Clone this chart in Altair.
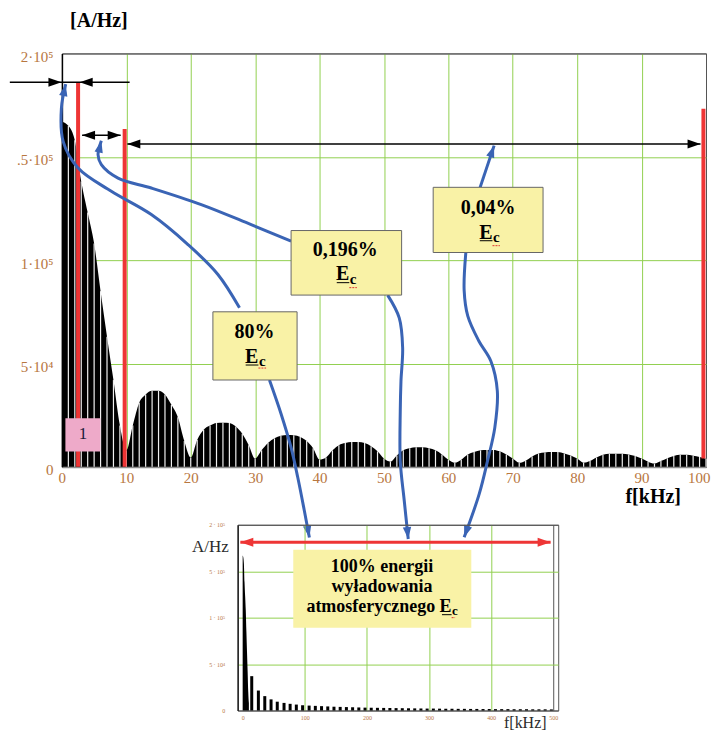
import altair as alt
import pandas as pd

# ---------------- data ----------------
freq_khz = list(range(0, 101))
amplitude = [167000, 165000, 158000, 138000, 123000, 108000, 85000, 63000, 42000, 20000,
             8000, 20000, 31000, 35000, 36800, 36800, 35000, 30000, 24000, 12500,
             4500, 13000, 18000, 20000, 21200, 21400, 21200, 19500, 16000, 10500,
             4000, 8000, 11500, 13800, 15000, 15400, 15300, 14500, 12500, 9000,
             3500, 4500, 8000, 10500, 11500, 12000, 12000, 11500, 10000, 7500,
             4000, 2500, 5500, 8000, 9000, 9500, 9500, 9000, 8000, 6000,
             3500, 2000, 3500, 6000, 7200, 8000, 8200, 8200, 7500, 6000,
             4000, 2000, 3000, 5000, 6500, 7000, 7200, 7200, 6500, 5500,
             4000, 2000, 2800, 4500, 5800, 6300, 6400, 6400, 6000, 5200,
             4000, 2500, 1600, 2800, 4200, 5300, 5800, 5800, 5400, 4800,
             3900]

main_x_ticks = [0, 10, 20, 30, 40, 50, 60, 70, 80, 90, 100]
main_y_ticks = [0, 50000, 100000, 150000, 200000]
main_y_labels = ["0", "5·10⁴", "1·10⁵", ".5·10⁵", "2·10⁵"]

inset_x_ticks = [0, 100, 200, 300, 400, 500]
inset_y_ticks = [0, 50000, 100000, 150000, 200000]
inset_y_labels = ["0", "5 · 10⁴", "1 · 10⁵", "5 · 10⁵", "2 · 10⁵"]

# inset: lobe peaks (0-500 kHz)
inset_lobe_khz = [14.6, 25.3, 35.6, 45.7, 55.7, 66.6, 76.4, 86.4, 96.5,
                  107, 117, 127, 137, 147, 157, 167, 177, 187, 197,
                  207, 217, 227, 237, 247, 257, 267, 277, 287, 297,
                  307, 317, 327, 337, 347, 357, 367, 377, 387, 397,
                  407, 417, 427, 437, 447, 457, 467, 477, 487, 497]
inset_lobe_amp = [37000, 21500, 15500, 12000, 9500, 8200, 7200, 6400, 5800,
                  5300, 5000, 4700, 4400, 4100, 3900, 3700, 3500, 3300, 3100,
                  3000, 2900, 2800, 2700, 2600, 2500, 2400, 2300, 2200, 2100,
                  2100, 2000, 1900, 1900, 1800, 1800, 1700, 1700, 1600, 1600,
                  1500, 1500, 1500, 1400, 1400, 1400, 1300, 1300, 1300, 1200]

# annotation geometry (data units: kHz, A/Hz)
red_f = [2.51, 9.74, 99.6]
red_v = [0, 0, 4000]
red_v2 = [186100, 163400, 173300]

black_f = [-8.09, 3.13, 10.16]
black_f2 = [10.51, 9.12, 99.15]
black_v = [186100, 160400, 156200]
black_head_f = [-0.08, 2.76, 3.13, 9.12, 10.16, 99.15]
black_head_v = [186100, 186100, 160400, 160400, 156200, 156200]
black_head_angle = [90, 270, 270, 90, 270, 90]

curves = {
    "A_up": ([27.57, 24.22, 19.57, 13.88, 7.67, 2.51, 0.19, -0.08, 0.59],
             [76940, 93080, 107560, 122050, 133310, 144560, 157460, 173540, 185130]),
    "A_dn": ([32.22, 34.03, 35.58, 36.62, 37.64, 38.42],
             [42020, 25600, 9320, -5170, -21250, -34150]),
    "B_up": ([35.58, 29.38, 21.63, 13.88, 8.71, 6.12, 5.61, 6.12],
             [109200, 117200, 126900, 134900, 139700, 146200, 151000, 157800]),
    "B_dn": ([50.57, 52.37, 52.9, 52.64, 52.53, 52.53, 53.15, 53.77],
             [83100, 72100, 57600, 41500, 27000, 2900, -16400, -34900]),
    "C_up": ([64.93, 67.10], [135200, 155400]),
    "C_dn": ([62.71, 62.45, 63.02, 64.73, 66.59, 67.60, 67.21, 66.08, 64.78, 62.45],
             [103700, 85400, 72900, 60900, 51200, 36700, 19000, 2900, -13200, -34100]),
}
blue_head_f = [0.59, 38.42, 6.12, 53.77, 67.10, 62.45]
blue_head_v = [185130, -34150, 157800, -34900, 155400, -34100]
blue_head_angle = [12, 169, 13, 174, 19, 199]

box_f = [23.44, 35.58, 57.64]
box_f2 = [36.51, 52.74, 74.70]
box_v = [42020, 83100, 103700]
box_v2 = [75010, 114330, 135240]

pink_f, pink_f2, pink_v, pink_v2 = [0.54], [5.97], [7400], [23500]

# underline under "E" and spell-check squiggle under "c"
ul_f = [28.53, 42.67, 64.88]
ul_f2 = [30.51, 44.62, 66.85]
ul_v = [49270, 89110, 109400]
sq_f = [30.51, 44.62, 66.85]
sq_f2 = [31.7, 45.8, 68.0]
sq_v = [47800, 86700, 107000]

# ---------------- styling ----------------
SERIF = "Liberation Serif"
BROWN = "#b8773f"
GREEN = "#92d050"
FRAME = "#555555"
YELLOW = "#f9f2a6"
BLUE = "#3a64b5"
RED = "#ee3535"
ARROW = "M0,0L0.7,2L-0.7,2Z"


def label_expr(values, labels):
    expr = "''"
    for v, l in reversed(list(zip(values, labels))):
        expr = f"datum.value === {v} ? '{l}' : {expr}"
    return expr


def grid_color(v0, vmax):
    return {"condition": [{"test": f"datum.value === {v0}", "value": "transparent"},
                          {"test": f"datum.value === {vmax}", "value": FRAME}],
            "value": GREEN}


# ---------------- main chart ----------------
x_axis_main = alt.Axis(values=main_x_ticks, title=None, ticks=False, labelFont=SERIF,
                       labelFontSize=15, labelColor=BROWN, labelPadding=4, labelFlush=True,
                       labelFlushOffset=4, labelOverlap=False, domainColor="#8c8c8c",
                       domainWidth=2, grid=True, gridColor=grid_color(0, 100), gridWidth=1)
y_axis_main = alt.Axis(values=main_y_ticks, title=None, ticks=False, labelFont=SERIF,
                       labelFontSize=15, labelColor=BROWN, labelPadding=9, labelOffset=3,
                       labelExpr=label_expr(main_y_ticks, main_y_labels),
                       domainColor="black", domainWidth=1.5,
                       grid=True, gridColor=grid_color(0, 200000), gridWidth=1)

xm = alt.X("f:Q", scale=alt.Scale(domain=[0, 100], nice=False, zero=False), axis=x_axis_main)
ym = alt.Y("v:Q", scale=alt.Scale(domain=[0, 200000], nice=False, zero=False), axis=y_axis_main)

spec_df = pd.DataFrame({"f": freq_khz, "v": amplitude})
white_df = pd.DataFrame({"f": freq_khz[1:], "v": [0] * 100, "v2": amplitude[1:]})
anchor_df = pd.DataFrame({"f": [0], "v": [200000], "v2": [221250]})
red_df = pd.DataFrame({"f": red_f, "v": red_v, "v2": red_v2})
black_df = pd.DataFrame({"f": black_f, "f2": black_f2, "v": black_v})
bhead_df = pd.DataFrame({"f": black_head_f, "v": black_head_v, "angle": black_head_angle})
rows = []
for name, (fs, vs) in curves.items():
    for i, (f, v) in enumerate(zip(fs, vs)):
        rows.append({"curve": name, "i": i, "f": f, "v": v})
curve_df = pd.DataFrame(rows)
blhead_df = pd.DataFrame({"f": blue_head_f, "v": blue_head_v, "angle": blue_head_angle})
box_df = pd.DataFrame({"f": box_f, "f2": box_f2, "v": box_v, "v2": box_v2})
pink_df = pd.DataFrame({"f": pink_f, "f2": pink_f2, "v": pink_v, "v2": pink_v2})
ul_df = pd.DataFrame({"f": ul_f, "f2": ul_f2, "v": ul_v})
sq_df = pd.DataFrame({"f": sq_f, "f2": sq_f2, "v": sq_v})

main_bold_center = pd.DataFrame({
    "text": ["[A/Hz]", "f[kHz]", "80%", "0,196%", "0,04%"],
    "f": [5.74, 91.8, 29.89, 44.0, 66.17],
    "v": [212600, -17700, 62160, 101910, 122540],
    "size": [20, 20, 20, 20, 20]})
main_E = pd.DataFrame({"text": ["E", "E", "E"], "f": [30.51, 44.62, 66.85],
                       "v": [50380, 90180, 110460], "size": [20, 20, 20]})
main_c = pd.DataFrame({"text": ["c", "c", "c"], "f": [30.59, 44.70, 66.93],
                       "v": [48700, 88500, 108800], "size": [15, 15, 15]})
main_reg = pd.DataFrame({"text": ["1"], "f": [3.26], "v": [13400], "size": [17]})


def text_layer(df, x, y, weight, align, color="black"):
    return alt.Chart(df).mark_text(font=SERIF, fontWeight=weight, align=align,
                                   baseline="alphabetic", color=color).encode(
        x=x, y=y, text="text:N", size=alt.Size("size:Q", scale=None))


anchor = alt.Chart(anchor_df).mark_rule(opacity=0).encode(x=xm, y=ym, y2="v2:Q")
area = alt.Chart(spec_df).mark_area(color="black", interpolate="monotone").encode(x=xm, y=ym)
white = alt.Chart(white_df).mark_rule(color="#f0f0f0", strokeWidth=1.2).encode(x=xm, y=ym, y2="v2:Q")
reds = alt.Chart(red_df).mark_rule(color=RED, strokeWidth=4).encode(x=xm, y=ym, y2="v2:Q")
pink = alt.Chart(pink_df).mark_rect(fill="#eeaac9").encode(x=xm, x2="f2:Q", y=ym, y2="v2:Q")
blacks = alt.Chart(black_df).mark_rule(color="black", strokeWidth=1.5).encode(x=xm, x2="f2:Q", y=ym)
bheads = alt.Chart(bhead_df).mark_point(shape=ARROW, filled=True, size=169, opacity=1,
                                        color="black", strokeWidth=0).encode(
    x=xm, y=ym, angle=alt.Angle("angle:Q", scale=None))
blue_lines = alt.Chart(curve_df).mark_line(color=BLUE, strokeWidth=3, interpolate="catmull-rom").encode(
    x=xm, y=ym, detail="curve:N", order="i:Q")
blheads = alt.Chart(blhead_df).mark_point(shape=ARROW, filled=True, size=144, opacity=1,
                                          color=BLUE, strokeWidth=0).encode(
    x=xm, y=ym, angle=alt.Angle("angle:Q", scale=None))
boxes = alt.Chart(box_df).mark_rect(fill=YELLOW, stroke="#666666", strokeWidth=1).encode(
    x=xm, x2="f2:Q", y=ym, y2="v2:Q")
uls = alt.Chart(ul_df).mark_rule(color="black", strokeWidth=1).encode(x=xm, x2="f2:Q", y=ym)
sqs = alt.Chart(sq_df).mark_rule(color="#e03030", strokeWidth=1, strokeDash=[2, 1]).encode(
    x=xm, x2="f2:Q", y=ym)

main = alt.layer(
    anchor, area, white, reds, pink,
    text_layer(main_reg, xm, ym, "normal", "center", "#1c1c3c"),
    blacks, bheads, blue_lines, blheads, boxes,
    text_layer(main_bold_center, xm, ym, "bold", "center"),
    text_layer(main_E, xm, ym, "bold", "right"),
    text_layer(main_c, xm, ym, "bold", "left"),
    uls, sqs,
).properties(width=645, height=414)

# ---------------- inset chart ----------------
x_axis_in = alt.Axis(values=inset_x_ticks, title=None, ticks=False, labelFont=SERIF,
                     labelFontSize=6, labelColor=BROWN, labelPadding=4, labelFlush=False,
                     labelOverlap=False, domainColor=FRAME, domainWidth=1,
                     grid=True, gridColor=grid_color(0, 500), gridWidth=1)
y_axis_in = alt.Axis(values=inset_y_ticks, title=None, ticks=False, labelFont=SERIF,
                     labelFontSize=6, labelColor=BROWN, labelPadding=13,
                     labelExpr=label_expr(inset_y_ticks, inset_y_labels),
                     domainColor="#222222", domainWidth=1.5,
                     grid=True, gridColor=grid_color(0, 200000), gridWidth=1)
xi = alt.X("f:Q", scale=alt.Scale(domain=[0, 500], nice=False, zero=False), axis=x_axis_in)
yi = alt.Y("v:Q", scale=alt.Scale(domain=[0, 200000], nice=False, zero=False), axis=y_axis_in)

lobe0_df = pd.DataFrame({"f": freq_khz[:11], "v": amplitude[:11]})
lobes_df = pd.DataFrame({"f": inset_lobe_khz, "v": inset_lobe_amp})
in_red_df = pd.DataFrame({"f": [-3.74], "f2": [495.8], "v": [181190]})
in_head_df = pd.DataFrame({"f": [-3.74, 495.8], "v": [181190, 181190], "angle": [270, 90]})
in_box_df = pd.DataFrame({"f": [81.46], "f2": [368.1], "v": [89200], "v2": [173100]})
in_ul_df = pd.DataFrame({"f": [320.9], "f2": [336.4], "v": [103200]})
in_sq_df = pd.DataFrame({"f": [336.4], "f2": [342.0], "v": [100000]})
in_bold_center = pd.DataFrame({"text": ["100% energii", "wyładowania"], "f": [224.3, 224.3],
                               "v": [148710, 127210], "size": [18, 18]})
in_bold_right = pd.DataFrame({"text": ["atmosferycznego E"], "f": [336.4], "v": [105700], "size": [18]})
in_bold_left = pd.DataFrame({"text": ["c"], "f": [336.9], "v": [102690], "size": [13]})
in_reg = pd.DataFrame({"text": ["A/Hz", "f[kHz]"], "f": [-52, 455.0], "v": [170220, -18300],
                       "size": [17, 16]})

inset = alt.layer(
    alt.Chart(lobe0_df).mark_area(color="black", interpolate="monotone").encode(x=xi, y=yi),
    alt.Chart(lobes_df).mark_bar(color="black", size=3).encode(x=xi, y=yi),
    alt.Chart(in_red_df).mark_rule(color=RED, strokeWidth=3).encode(x=xi, x2="f2:Q", y=yi),
    alt.Chart(in_head_df).mark_point(shape=ARROW, filled=True, size=169, opacity=1, color=RED,
                                     strokeWidth=0).encode(x=xi, y=yi, angle=alt.Angle("angle:Q", scale=None)),
    alt.Chart(in_box_df).mark_rect(fill=YELLOW).encode(x=xi, x2="f2:Q", y=yi, y2="v2:Q"),
    text_layer(in_bold_center, xi, yi, "bold", "center"),
    text_layer(in_bold_right, xi, yi, "bold", "right"),
    text_layer(in_bold_left, xi, yi, "bold", "left"),
    alt.Chart(in_ul_df).mark_rule(color="black", strokeWidth=1).encode(x=xi, x2="f2:Q", y=yi),
    alt.Chart(in_sq_df).mark_rule(color="#e03030", strokeWidth=1, strokeDash=[2, 1]).encode(
        x=xi, x2="f2:Q", y=yi),
    text_layer(in_reg, xi, yi, "normal", "center", "#2b2b2b"),
).properties(width=321, height=186)

spacer = alt.Chart(pd.DataFrame({"s": [0]})).mark_point(opacity=0).encode(
    x=alt.X("s:Q", axis=None), y=alt.Y("s:Q", axis=None)
).properties(width=156, height=186, view=alt.ViewBackground(stroke="transparent"))

bottom = alt.hconcat(spacer, inset, spacing=20, bounds="flush")
chart = alt.vconcat(main, bottom, spacing=58, bounds="flush").properties(
    padding={"left": 0, "top": 0, "right": 0, "bottom": 0}, background="white"
).configure_view(stroke=FRAME, strokeWidth=1)

chart.save("out.html", embed_options={"renderer": "svg", "actions": False})
